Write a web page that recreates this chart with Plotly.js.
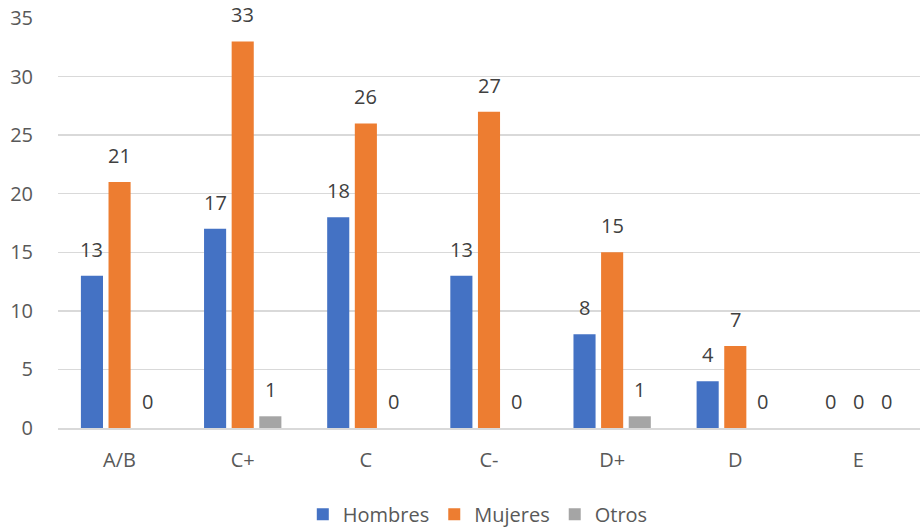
<!DOCTYPE html>
<html>
<head>
<meta charset="utf-8">
<script src="https://cdn.plot.ly/plotly-3.0.1.min.js"></script>
<style>html,body{margin:0;padding:0;background:#fff;}#chart{width:921px;height:527px;}</style>
</head>
<body>
<div id="chart"></div>
<script>
const categories = ["A/B", "C+", "C", "C-", "D+", "D", "E"];
const hombres = [13, 17, 18, 13, 8, 4, 0];
const mujeres = [21, 33, 26, 27, 15, 7, 0];
const otros = [0, 1, 0, 0, 1, 0, 0];
const seriesNames = ["Hombres", "Mujeres", "Otros"];
const yTicks = [0, 5, 10, 15, 20, 25, 30, 35];

const colors = ["#4472C4", "#ED7D31", "#A5A5A5"];
const seriesVals = [hombres, mujeres, otros];
const FONT = "Open Sans, sans-serif";
const TXT = "#595959";
const FS = 20;

const traces = seriesVals.map((vals, i) => ({
  type: "bar",
  name: seriesNames[i],
  x: categories,
  y: vals,
  marker: {color: colors[i]},
  hoverinfo: "x+y+name"
}));

const slot = 27.6;
const annotations = [];
seriesVals.forEach((vals, i) => {
  vals.forEach((v, j) => {
    annotations.push({
      x: categories[j], y: v, xref: "x", yref: "y",
      text: String(v), showarrow: false,
      xanchor: "center", yanchor: "bottom",
      xshift: (i - 1) * slot, yshift: 11,
      font: {family: FONT, size: FS, color: "#404040"}
    });
  });
});

const layout = {
  width: 921, height: 527,
  margin: {l: 58, r: 1, t: 18, b: 99, autoexpand: false},
  paper_bgcolor: "#fff", plot_bgcolor: "#fff",
  barmode: "group",
  bargap: 0.327,
  bargroupgap: 0.2,
  font: {family: FONT, size: FS, color: TXT},
  xaxis: {
    type: "category",
    showgrid: false,
    showline: true, linecolor: "#D9D9D9", linewidth: 1.5,
    ticks: "outside", ticklen: 13, tickcolor: "rgba(0,0,0,0)",
    tickfont: {family: FONT, size: FS, color: TXT},
    zeroline: false
  },
  yaxis: {
    range: [0, 35],
    tickvals: yTicks,
    showgrid: true, gridcolor: "#D9D9D9", gridwidth: 1.5,
    zeroline: false, showline: false,
    ticks: "outside", ticklen: 20, tickcolor: "rgba(0,0,0,0)",
    tickfont: {family: FONT, size: FS, color: TXT}
  },
  legend: {
    orientation: "h",
    x: 0.487, xanchor: "center",
    y: -0.163, yanchor: "top",
    font: {family: FONT, size: FS, color: TXT},
    itemclick: false
  },
  annotations: annotations,
  showlegend: true
};

Plotly.newPlot("chart", traces, layout, {displayModeBar: false, staticPlot: true});
</script>
</body>
</html>
